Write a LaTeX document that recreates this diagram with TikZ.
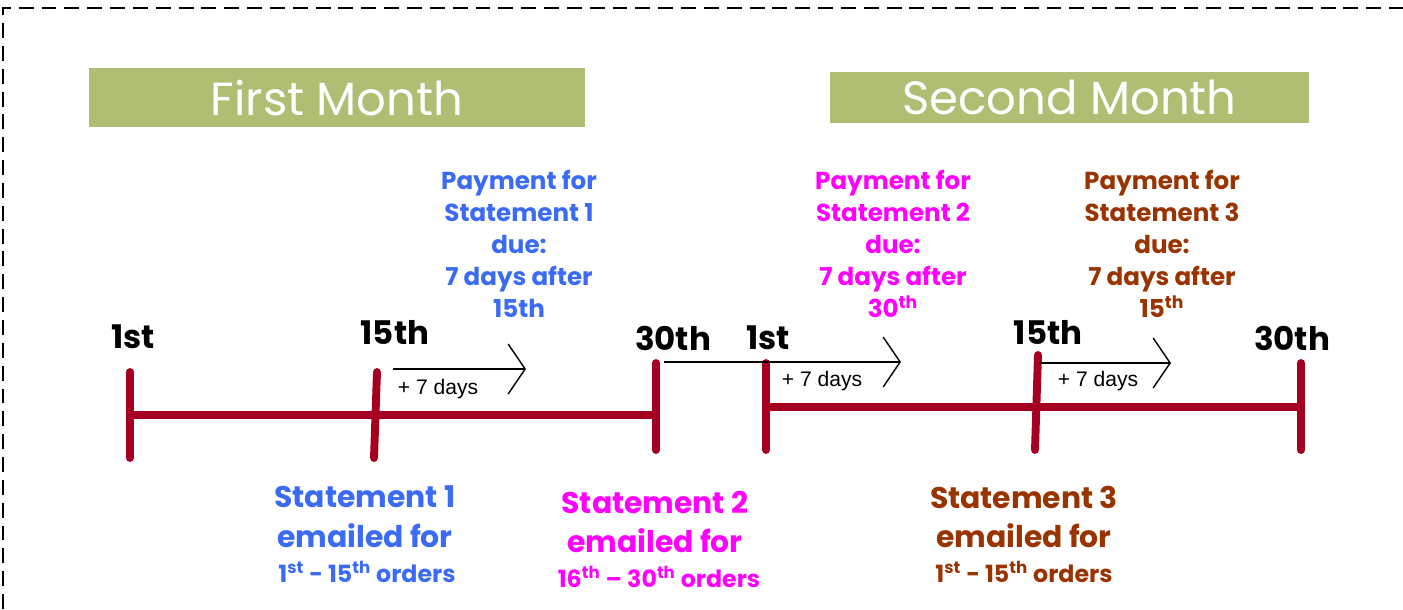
\documentclass[tikz,border=0pt]{standalone}
\usepackage{fontspec}
\setmainfont{Poppins}
\newfontfamily\arialfont{Liberation Sans}
\usepackage{tikz}
\usetikzlibrary{arrows, arrows.meta}
\usetikzlibrary{positioning,calc}
\definecolor{headgreen}{RGB}{174,191,116}
\definecolor{barred}{RGB}{165,0,33}
\definecolor{stblue}{RGB}{59,107,245}
\definecolor{stpink}{RGB}{255,0,255}
\definecolor{stbrown}{RGB}{153,51,0}
\tikzstyle{daytick}=[draw=barred, line width=4.5pt, line cap=round]
\tikzstyle{daybar}=[draw=barred, line width=5pt]
\tikzstyle{dayarrow}=[-{Straight Barb[length=0.34cm,width=1cm]}, line width=0.8pt]
\tikzstyle{month}=[fill=headgreen, text=white, inner sep=0pt, font=\fontsize{26.5}{28}\selectfont]
\tikzstyle{daylabel}=[inner sep=0pt, font=\bfseries\fontsize{18.5}{20}\selectfont]
\tikzstyle{plusdays}=[inner sep=0pt, font=\arialfont\fontsize{12}{14}\selectfont]
\tikzstyle{payment}=[align=center, inner sep=0pt, font=\bfseries\fontsize{14}{18.2}\selectfont]
\tikzstyle{statement}=[align=center, inner sep=0pt, font=\bfseries\fontsize{17}{22.7}\selectfont]
\tikzstyle{orders}=[inner sep=0pt, font=\bfseries\fontsize{13.5}{16}\selectfont]

\begin{document}
\begin{tikzpicture}[x=0.02cm, y=-0.02cm]
 \useasboundingbox (0,0) rectangle (1403,609);

 % dashed frame
 \draw[dash pattern=on 8.5pt off 4.5pt, line width=1.3pt] (3,609) -- (3,8) -- (1403,8);

 % month headers
 \node [month, minimum width=9.92cm, minimum height=1.18cm] (m1) at (337,97.5) {First Month};
 \node [month, minimum width=9.58cm, minimum height=1.02cm] (m2) at (1069.5,97.5) {Second Month};

 % ticks
 \coordinate (d1t) at (130,372);  \coordinate (d1b) at (130,458);
 \coordinate (d2t) at (377,372);  \coordinate (d2b) at (374,458);
 \coordinate (d3t) at (656,363);  \coordinate (d3b) at (656,450);
 \coordinate (e1t) at (766,363);  \coordinate (e1b) at (766,450);
 \coordinate (e2t) at (1038,355); \coordinate (e2b) at (1035,450);
 \coordinate (e3t) at (1301,363); \coordinate (e3b) at (1301,450);
 \coordinate (bar1s) at (130,415); \coordinate (bar1e) at (656,415);
 \coordinate (bar2s) at (766,407); \coordinate (bar2e) at (1301,407);

 \draw[daybar] (bar1s) -- (bar1e);
 \draw[daybar] (bar2s) -- (bar2e);
 \foreach \t in {d1,d2,d3,e1,e2,e3}
   \draw[daytick] (\t t) -- (\t b);

 \node [daylabel] (l1) at (133,337) {1st};
 \node [daylabel] (l15) at (395,332) {15th};
 \node [daylabel] (l30) at (673,338) {30th};
 \node [daylabel] (k1) at (768,338) {1st};
 \node [daylabel] (k15) at (1048,332) {15th};
 \node [daylabel] (k30) at (1292,338) {30th};

 % +7 days arrows
 \coordinate (a1s) at (393,369); \coordinate (a1e) at (526,369);
 \coordinate (a2s) at (664,362); \coordinate (a2e) at (901,362);
 \coordinate (a3s) at (1039,363); \coordinate (a3e) at (1171,363);
 \draw[dayarrow] (a1s) -- (a1e);
 \draw[dayarrow] (a2s) -- (a2e);
 \draw[dayarrow] (a3s) -- (a3e);
 \node [plusdays] (p1) at (438,389) {+ 7 days};
 \node [plusdays] (p2) at (822,381) {+ 7 days};
 \node [plusdays] (p3) at (1098,381) {+ 7 days};

 % payments due
 \node [payment, text=stblue] (pay1) at (519,244) {Payment for\\Statement 1\\due:\\7 days after\\15th};
 \node [payment, text=stpink] (pay2) at (893,244) {Payment for\\Statement 2\\due:\\7 days after\\30\textsuperscript{th}};
 \node [payment, text=stbrown] (pay3) at (1162,244) {Payment for\\Statement 3\\due:\\7 days after\\15\textsuperscript{th}};

 % statements
 \node [statement, text=stblue] (st1) at (365,517) {Statement 1\\emailed for};
 \node [orders, text=stblue] (or1) at (367,572) {1\textsuperscript{st} - 15\textsuperscript{th} orders};
 \node [statement, text=stpink] (st2) at (655,522) {Statement 2\\emailed for};
 \node [orders, text=stpink] (or2) at (659,577) {16\textsuperscript{th} -- 30\textsuperscript{th} orders};
 \node [statement, text=stbrown] (st3) at (1024,517) {Statement 3\\emailed for};
 \node [orders, text=stbrown] (or3) at (1024,572) {1\textsuperscript{st} - 15\textsuperscript{th} orders};
\end{tikzpicture}
\end{document}
